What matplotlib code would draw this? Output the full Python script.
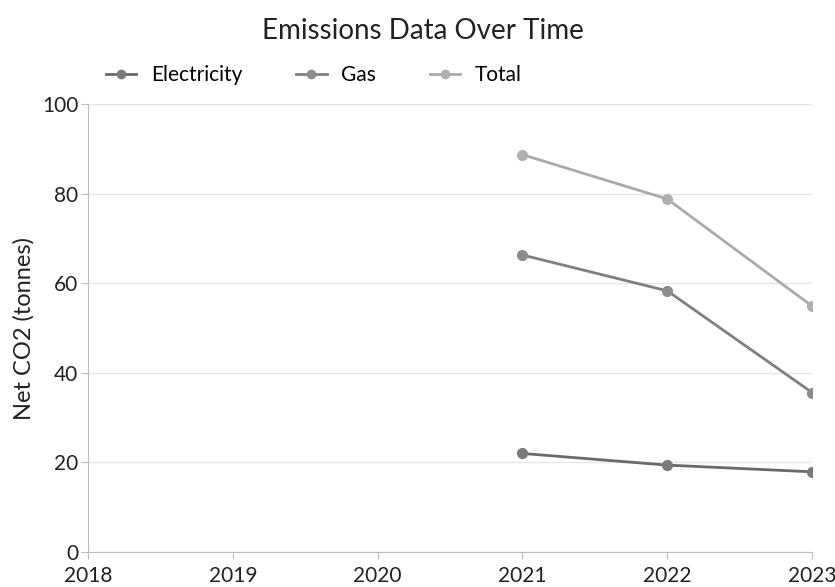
import matplotlib
matplotlib.use("Agg")
import matplotlib.pyplot as plt

years = [2021, 2022, 2023]
electricity = [22.0, 19.4, 17.9]
gas = [66.3, 58.3, 35.6]
total = [88.7, 78.8, 54.9]
x_ticks = [2018, 2019, 2020, 2021, 2022, 2023]
y_ticks = [0, 20, 40, 60, 80, 100]

series = [("Electricity", electricity, "#6a6a6a", "#7a7a7a"),
          ("Gas", gas, "#808080", "#8c8c8c"),
          ("Total", total, "#ababab", "#b0b0b0")]

plt.rcParams['font.family'] = ['Lato', 'DejaVu Sans']

fig = plt.figure(figsize=(8.35, 5.87), dpi=100)
ax = fig.add_axes([0.1054, 0.0596, 0.8671, 0.7632])

for name, vals, lc, mc in series:
    ax.plot(years, vals, color=lc, linewidth=2, marker='o', markersize=7,
            markerfacecolor=mc, markeredgecolor=mc, label=name)

ax.set_xlim(2018, 2023)
ax.set_ylim(0, 100)
ax.set_xticks(x_ticks)
ax.set_yticks(y_ticks)
ax.tick_params(axis='both', labelsize=15, colors='#222222')
ax.tick_params(axis='x', length=5, color='#bbbbbb', pad=5)
ax.tick_params(axis='y', length=5, color='#bbbbbb', pad=2)
ax.grid(axis='y', color='#e6e6e6', linewidth=1)
ax.set_axisbelow(True)
for s in ['top', 'right']:
    ax.spines[s].set_visible(False)
ax.spines['left'].set_color('#bbbbbb')
ax.spines['bottom'].set_color('#bbbbbb')
ax.set_ylabel("Net CO2 (tonnes)", fontsize=17, color='#222222', labelpad=5)

fig.text(0.507, 0.947, "Emissions Data Over Time", ha='center', va='center',
         fontsize=20, color='#222222')
handles, labels = ax.get_legend_handles_labels()
leg = fig.legend(handles, labels, loc='center left',
                 bbox_to_anchor=(106 / 835, 1 - 75 / 587), ncol=3,
                 frameon=False, fontsize=15, handlelength=1.45,
                 columnspacing=2.6, handletextpad=0.7, markerscale=0.85,
                 borderpad=0, borderaxespad=0)

fig.savefig("out.png", dpi=100)
